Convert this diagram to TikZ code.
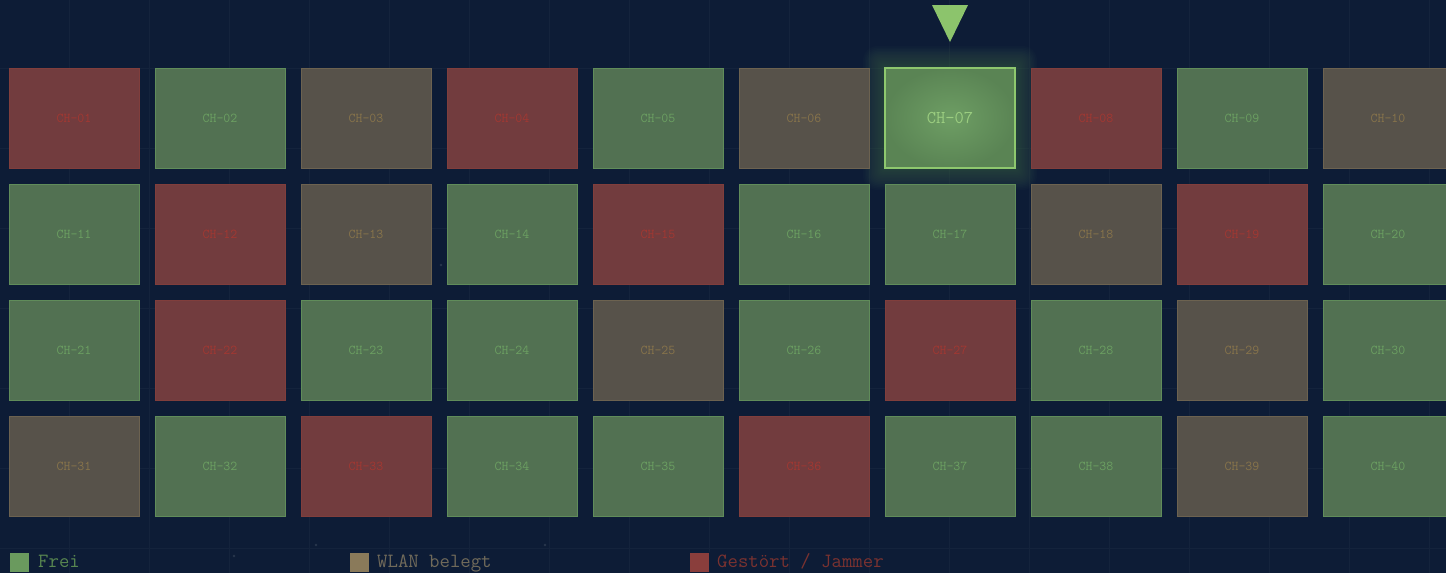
\documentclass[tikz,border=0pt]{standalone}
\usepackage{fontspec}
\usetikzlibrary{calc}
\definecolor{bg}{RGB}{13,28,54}
\definecolor{gridc}{RGB}{20,35,60}
\definecolor{fillR}{RGB}{114,60,62}
\definecolor{lineR}{RGB}{128,62,60}
\definecolor{textR}{RGB}{162,56,50}
\definecolor{fillG}{RGB}{82,113,82}
\definecolor{lineG}{RGB}{96,140,90}
\definecolor{textG}{RGB}{108,160,98}
\definecolor{fillW}{RGB}{87,82,74}
\definecolor{lineW}{RGB}{108,98,80}
\definecolor{textW}{RGB}{136,116,74}
\definecolor{selline}{RGB}{142,200,110}
\definecolor{selin}{RGB}{110,158,100}
\definecolor{selout}{RGB}{90,132,84}
\definecolor{seltext}{RGB}{155,205,128}
\definecolor{tri}{RGB}{140,196,108}
\definecolor{glowc}{RGB}{110,170,100}
\definecolor{legG}{RGB}{106,154,94}
\definecolor{legW}{RGB}{138,122,90}
\definecolor{legR}{RGB}{138,62,60}
\definecolor{legtG}{RGB}{88,134,80}
\definecolor{legtW}{RGB}{112,106,90}
\definecolor{legtR}{RGB}{122,50,48}
\begin{document}
\begin{tikzpicture}[x=1pt,y=-1pt,
  chbox/.style={minimum width=130pt,minimum height=100pt,inner sep=0pt,line width=1pt,
    font=\ttfamily\fontsize{13.5}{13.5}\selectfont},
  selbox/.style={minimum width=130pt,minimum height=100pt,inner sep=0pt,line width=2pt,
    draw=selline,inner color=selin,outer color=selout,text=seltext,
    font=\ttfamily\fontsize{18}{18}\selectfont},
  legsq/.style={minimum width=20pt,minimum height=20pt,inner sep=0pt,anchor=north west,draw=bg,line width=0.6pt},
  legtxt/.style={anchor=base west,inner sep=0pt,font=\ttfamily\fontsize{20.2}{20.2}\selectfont},
  speck/.style={fill=gridc!70!white,opacity=0.35}]
\useasboundingbox (0,0) rectangle (1446,573);
\clip (0,0) rectangle (1446,573);
\fill[bg] (0,0) rectangle (1446,573);
% faint grid
\foreach \x in {-11,69,...,1469} \draw[gridc,line width=0.8pt] (\x,0) -- (\x,573);
\foreach \y in {-12,68,...,588} \draw[gridc,line width=0.8pt] (0,\y) -- (1446,\y);
% specks
\foreach \p in {(441,265),(316,545),(1085,375),(1360,213),(493,385),(234,556),(545,545),(1338,381),(653,236),(1113,447)}
  \fill[speck] \p circle (1.3pt);
% glow around selected channel
\foreach \k in {1,...,14}
  \fill[glowc,opacity=0.022,rounded corners=\k pt] ($(950,118)+(-66-1.5*\k,-51-1.5*\k)$) rectangle ($(950,118)+(66+1.5*\k,51+1.5*\k)$);
% channel grid
\foreach \s [count=\n from 1] in {R,G,W,R,G,W,G,R,G,W,
                                  G,R,W,G,R,G,G,W,R,G,
                                  G,R,G,G,W,G,R,G,W,G,
                                  W,G,R,G,G,R,G,G,W,G}{
  \pgfmathtruncatemacro\i{\n-1}
  \pgfmathtruncatemacro\c{mod(\i,10)}
  \pgfmathtruncatemacro\r{div(\i,10)}
  \ifnum\n=7
    \node[selbox] (ch\n) at ({950},{118}) {CH-07};
  \else
    \node[chbox,fill=fill\s,draw=line\s,text=text\s] (ch\n) at ({74+146*\c},{118+116*\r})
      {CH-\ifnum\n<10 0\fi\n};
  \fi
}
% pointer
\coordinate (tipl) at (932,5);
\coordinate (tipr) at (968,5);
\coordinate (tipb) at (950,42);
\fill[tri] (tipl) -- (tipr) -- (tipb) -- cycle;
% legend
\node[legsq,fill=legG] (lg) at (9,552) {};
\node[legtxt,text=legtG] (lgt) at (38,567) {Frei};
\node[legsq,fill=legW] (lw) at (349,552) {};
\node[legtxt,text=legtW] (lwt) at (377,567) {WLAN belegt};
\node[legsq,fill=legR] (lr) at (689,552) {};
\node[legtxt,text=legtR] (lrt) at (717,567) {Gestört / Jammer};
\end{tikzpicture}
\end{document}
